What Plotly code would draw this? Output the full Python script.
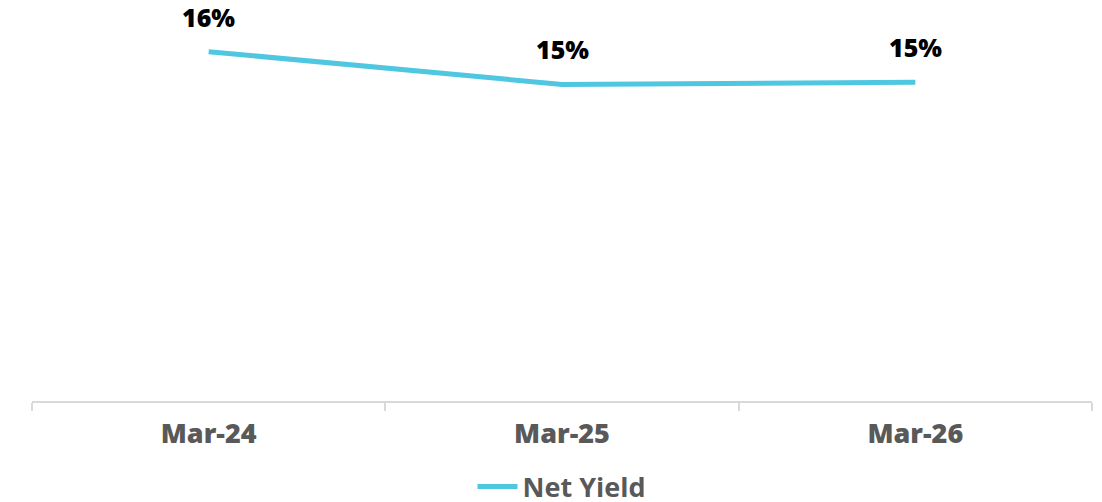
import plotly.graph_objects as go

categories = ["Mar-24", "Mar-25", "Mar-26"]
net_yield = [16.0, 14.5, 14.6]
value_labels = ["16%", "15%", "15%"]
series_name = "Net Yield"

line_color = "#4FC7E0"
font_family = "Open Sans, Noto Sans, Arial, sans-serif"

fig = go.Figure()
fig.add_trace(go.Scatter(
    x=categories, y=net_yield, mode="lines", name=f"<b>{series_name}</b>",
    line=dict(color=line_color, width=5),
    hoverinfo="skip",
))

for c, v, t in zip(categories, net_yield, value_labels):
    fig.add_annotation(x=c, y=v, text=t, showarrow=False,
                       yanchor="bottom", yshift=16,
                       font=dict(family=font_family, size=25, color="#000000", weight=800))

fig.update_layout(
    width=1102, height=502,
    margin=dict(l=24, r=18, t=0, b=109, autoexpand=False),
    paper_bgcolor="white", plot_bgcolor="white",
    showlegend=True,
    legend=dict(orientation="h", x=0.5, xanchor="center", y=-0.219, yanchor="middle",
                font=dict(family=font_family, size=27, color="#595959", weight=800),
                itemwidth=40),
    xaxis=dict(
        type="category", range=[-0.5, 2.5], tickson="boundaries",
        showline=True, linecolor="#D9D9D9", linewidth=2,
        ticks="outside", ticklen=8, tickcolor="#D9D9D9", tickwidth=2,
        showgrid=False, zeroline=False, automargin=False, ticklabelstandoff=8,
        tickfont=dict(family=font_family, size=27, color="#595959", weight=800),
    ),
    yaxis=dict(range=[0, 18], visible=False, showgrid=False, zeroline=False, automargin=False),
)

fig.write_html("out.html")
